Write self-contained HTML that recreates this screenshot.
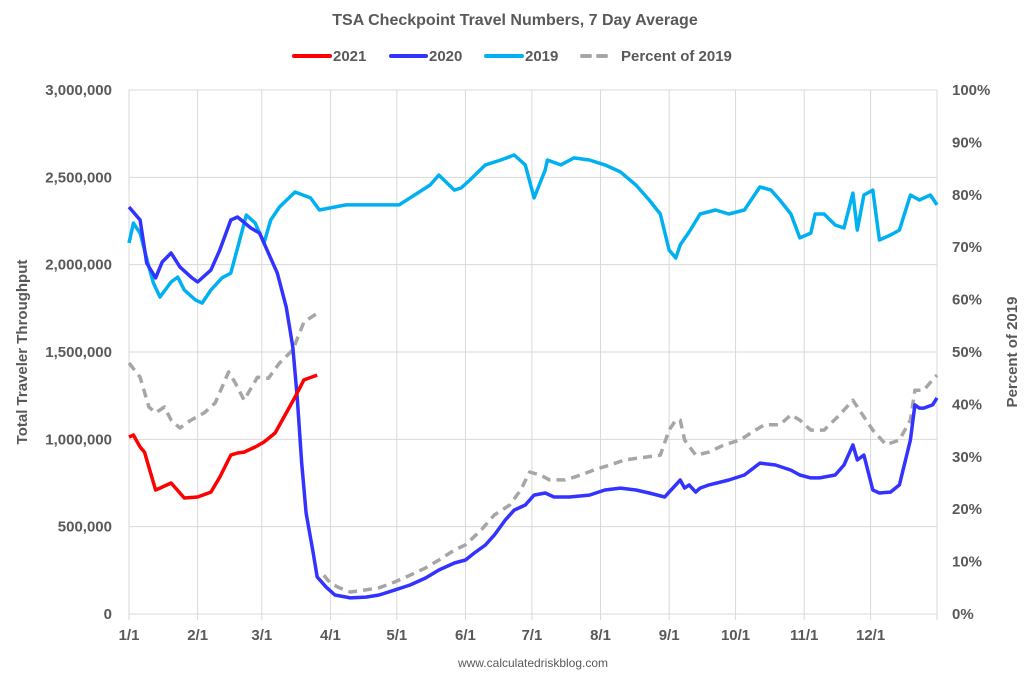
<!DOCTYPE html>
<html><head><meta charset="utf-8"><style>
body{margin:0;background:#fff;}
svg{font-family:"Liberation Sans",sans-serif;font-weight:bold;fill:#595959;}
</style></head><body>
<svg id="c" width="1030" height="678" viewBox="0 0 1030 678">
<text x="515" y="25" text-anchor="middle" font-size="16">TSA Checkpoint Travel Numbers, 7 Day Average</text>
<g font-size="15">
<g><line x1="294" y1="56" x2="330" y2="56" stroke="#ff0000" stroke-width="4" stroke-linecap="round"/><text x="333" y="61">2021</text></g>
<g><line x1="391" y1="56" x2="426" y2="56" stroke="#3333ff" stroke-width="4" stroke-linecap="round"/><text x="429" y="61">2020</text></g>
<g><line x1="486" y1="56" x2="522" y2="56" stroke="#00b0f0" stroke-width="4" stroke-linecap="round"/><text x="525" y="61">2019</text></g>
<g><line x1="582" y1="56" x2="611" y2="56" stroke="#a6a6a6" stroke-width="4" stroke-dasharray="8,8" stroke-linecap="round"/><text x="621" y="61">Percent of 2019</text></g>
</g>
<text transform="translate(27,352) rotate(-90)" text-anchor="middle" font-size="15">Total Traveler Throughput</text>
<text transform="translate(1017,352) rotate(-90)" text-anchor="middle" font-size="15">Percent of 2019</text>
<text x="533" y="667" text-anchor="middle" font-size="12" font-weight="normal">www.calculatedriskblog.com</text>
<g id="grid"></g><g id="series"></g>
</svg>
<script>
const leftTicks=["0","500,000","1,000,000","1,500,000","2,000,000","2,500,000","3,000,000"];
const leftTickVals=[0,500,1000,1500,2000,2500,3000];
const rightTicks=["0%","10%","20%","30%","40%","50%","60%","70%","80%","90%","100%"];
const rightTickVals=[0,10,20,30,40,50,60,70,80,90,100];
const monthLabels=["1/1","2/1","3/1","4/1","5/1","6/1","7/1","8/1","9/1","10/1","11/1","12/1"];
const monthDays=[0,31,60,91,121,152,182,213,244,274,305,335];

const days2019=[0,2,5,9,11,14,19,22,25,30,33,37,42,46,50,53,57,61,64,68,75,82,86,93,98,102,109,116,122,129,136,140,147,150,154,161,168,174,179,183,188,189,195,201,208,215,222,229,235,240,244,247,249,253,258,265,271,278,285,290,294,299,303,308,310,314,319,323,327,329,332,336,339,344,348,353,357,362,365];
const vals2019=[2124,2238,2181,1987,1895,1815,1901,1929,1855,1798,1780,1855,1924,1952,2141,2284,2238,2124,2256,2330,2416,2382,2313,2330,2342,2342,2342,2342,2342,2399,2456,2513,2427,2439,2485,2571,2599,2628,2571,2382,2542,2599,2571,2611,2599,2571,2531,2456,2370,2290,2084,2038,2113,2187,2290,2313,2290,2313,2445,2427,2370,2290,2153,2181,2290,2290,2227,2210,2410,2198,2399,2427,2141,2170,2198,2399,2370,2399,2342];

const days2020=[0,5,8,12,15,19,23,28,31,37,41,46,49,55,59,62,67,71,74,76,78,80,83,85,89,93,100,107,113,120,127,134,140,147,152,156,161,165,170,174,179,183,188,192,199,208,215,222,229,235,242,244,247,249,251,253,256,258,262,271,278,285,292,299,303,308,312,319,323,327,329,332,336,339,344,348,353,355,357,359,363,365];
const vals2020=[2330,2256,2009,1924,2015,2067,1987,1929,1901,1969,2084,2256,2273,2210,2181,2095,1952,1758,1529,1242,864,578,366,212,155,109,92,97,109,137,166,206,252,292,309,349,395,452,538,595,624,681,693,670,670,681,710,721,710,693,670,698,739,767,721,739,698,721,739,767,796,864,853,824,796,779,779,796,853,968,882,910,710,693,698,739,996,1197,1179,1179,1197,1237];

const days2021=[0,2,5,7,12,14,19,25,31,37,41,46,49,52,57,61,66,70,75,79,85];
const vals2021=[1013,1025,956,927,710,721,750,664,670,698,784,910,922,927,956,985,1036,1128,1242,1340,1368];

const daysPct=[0,5,9,12,16,19,23,28,34,39,45,48,52,58,63,68,74,79,85,null,88,91,95,100,107,113,120,127,134,140,147,152,159,165,172,177,181,186,190,197,204,210,217,224,231,240,244,247,249,251,256,262,269,276,283,287,294,299,303,308,314,321,327,330,336,342,348,353,355,359,363,365];
const valsPct=[47.9,45.2,39.5,38.4,39.5,37.0,35.5,37.0,38.4,40.3,46.2,44.1,40.8,45.2,45.0,47.9,50.4,55.7,57.4,null,7.4,5.9,5.0,4.2,4.6,5.0,6.1,7.4,8.8,10.3,12.2,13.2,16.0,18.9,20.8,23.7,27.1,26.5,25.6,25.6,26.5,27.5,28.4,29.4,29.8,30.3,35.1,37.0,37.0,33.2,30.3,30.9,32.3,33.2,35.1,36.1,36.1,38.0,37.0,35.1,35.1,38.0,40.8,38.9,35.1,32.3,33.2,37.0,42.7,42.7,44.7,45.6];

const X0=129,X1=937,Y0=614,Y1=90;
const xS=d=>X0+d/365*(X1-X0);
const yL=v=>Y0-v/3000*(Y0-Y1);
const yR=p=>Y0-p/100*(Y0-Y1);
const NS="http://www.w3.org/2000/svg";
const grid=document.getElementById('grid'),ser=document.getElementById('series');
function mk(tag,attrs,parent){const e=document.createElementNS(NS,tag);for(const k in attrs)e.setAttribute(k,attrs[k]);parent.appendChild(e);return e;}
leftTickVals.forEach((v,i)=>{
  const l=mk('line',{x1:X0,x2:X1,y1:yL(v),y2:yL(v),stroke:'#d9d9d9','stroke-width':1},grid);
  
  
  const t=mk('text',{x:112,y:yL(v)+5,'text-anchor':'end','font-size':15},grid);
  t.textContent=leftTicks[i];
  
  
});
rightTickVals.forEach((v,i)=>{
  const t=mk('text',{x:952,y:yR(v)+5,'font-size':15},grid);
  t.textContent=rightTicks[i];
  
  
});
monthDays.forEach((d,i)=>{
  const x=xS(d);
  const l=mk('line',{x1:x,x2:x,y1:Y1,y2:Y0+6,stroke:'#d9d9d9','stroke-width':1},grid);
  
  
  const t=mk('text',{x:x,y:640,'text-anchor':'middle','font-size':15},grid);
  t.textContent=monthLabels[i];
  
  
});
const rl=mk('line',{x1:X1,x2:X1,y1:Y1,y2:Y0+6,stroke:'#d9d9d9','stroke-width':1},grid);


function path(days,vals,yf){let d='',pen=false;for(let i=0;i<days.length;i++){if(days[i]===null||vals[i]===null){pen=false;continue;}d+=(pen?'L':'M')+xS(days[i]).toFixed(1)+','+yf(vals[i]).toFixed(1);pen=true;}return d;}
const p19=mk('path',{d:path(days2019,vals2019,yL),fill:'none',stroke:'#00b0f0','stroke-width':3.5,'stroke-linejoin':'round'},ser);


const pP=mk('path',{d:path(daysPct,valsPct,yR),fill:'none',stroke:'#a6a6a6','stroke-width':3.5,'stroke-dasharray':'9,6','stroke-linejoin':'round'},ser);


const p20=mk('path',{d:path(days2020,vals2020,yL),fill:'none',stroke:'#3333ff','stroke-width':3.5,'stroke-linejoin':'round'},ser);


const p21=mk('path',{d:path(days2021,vals2021,yL),fill:'none',stroke:'#ff0000','stroke-width':3.5,'stroke-linejoin':'round'},ser);


</script>
</body></html>
